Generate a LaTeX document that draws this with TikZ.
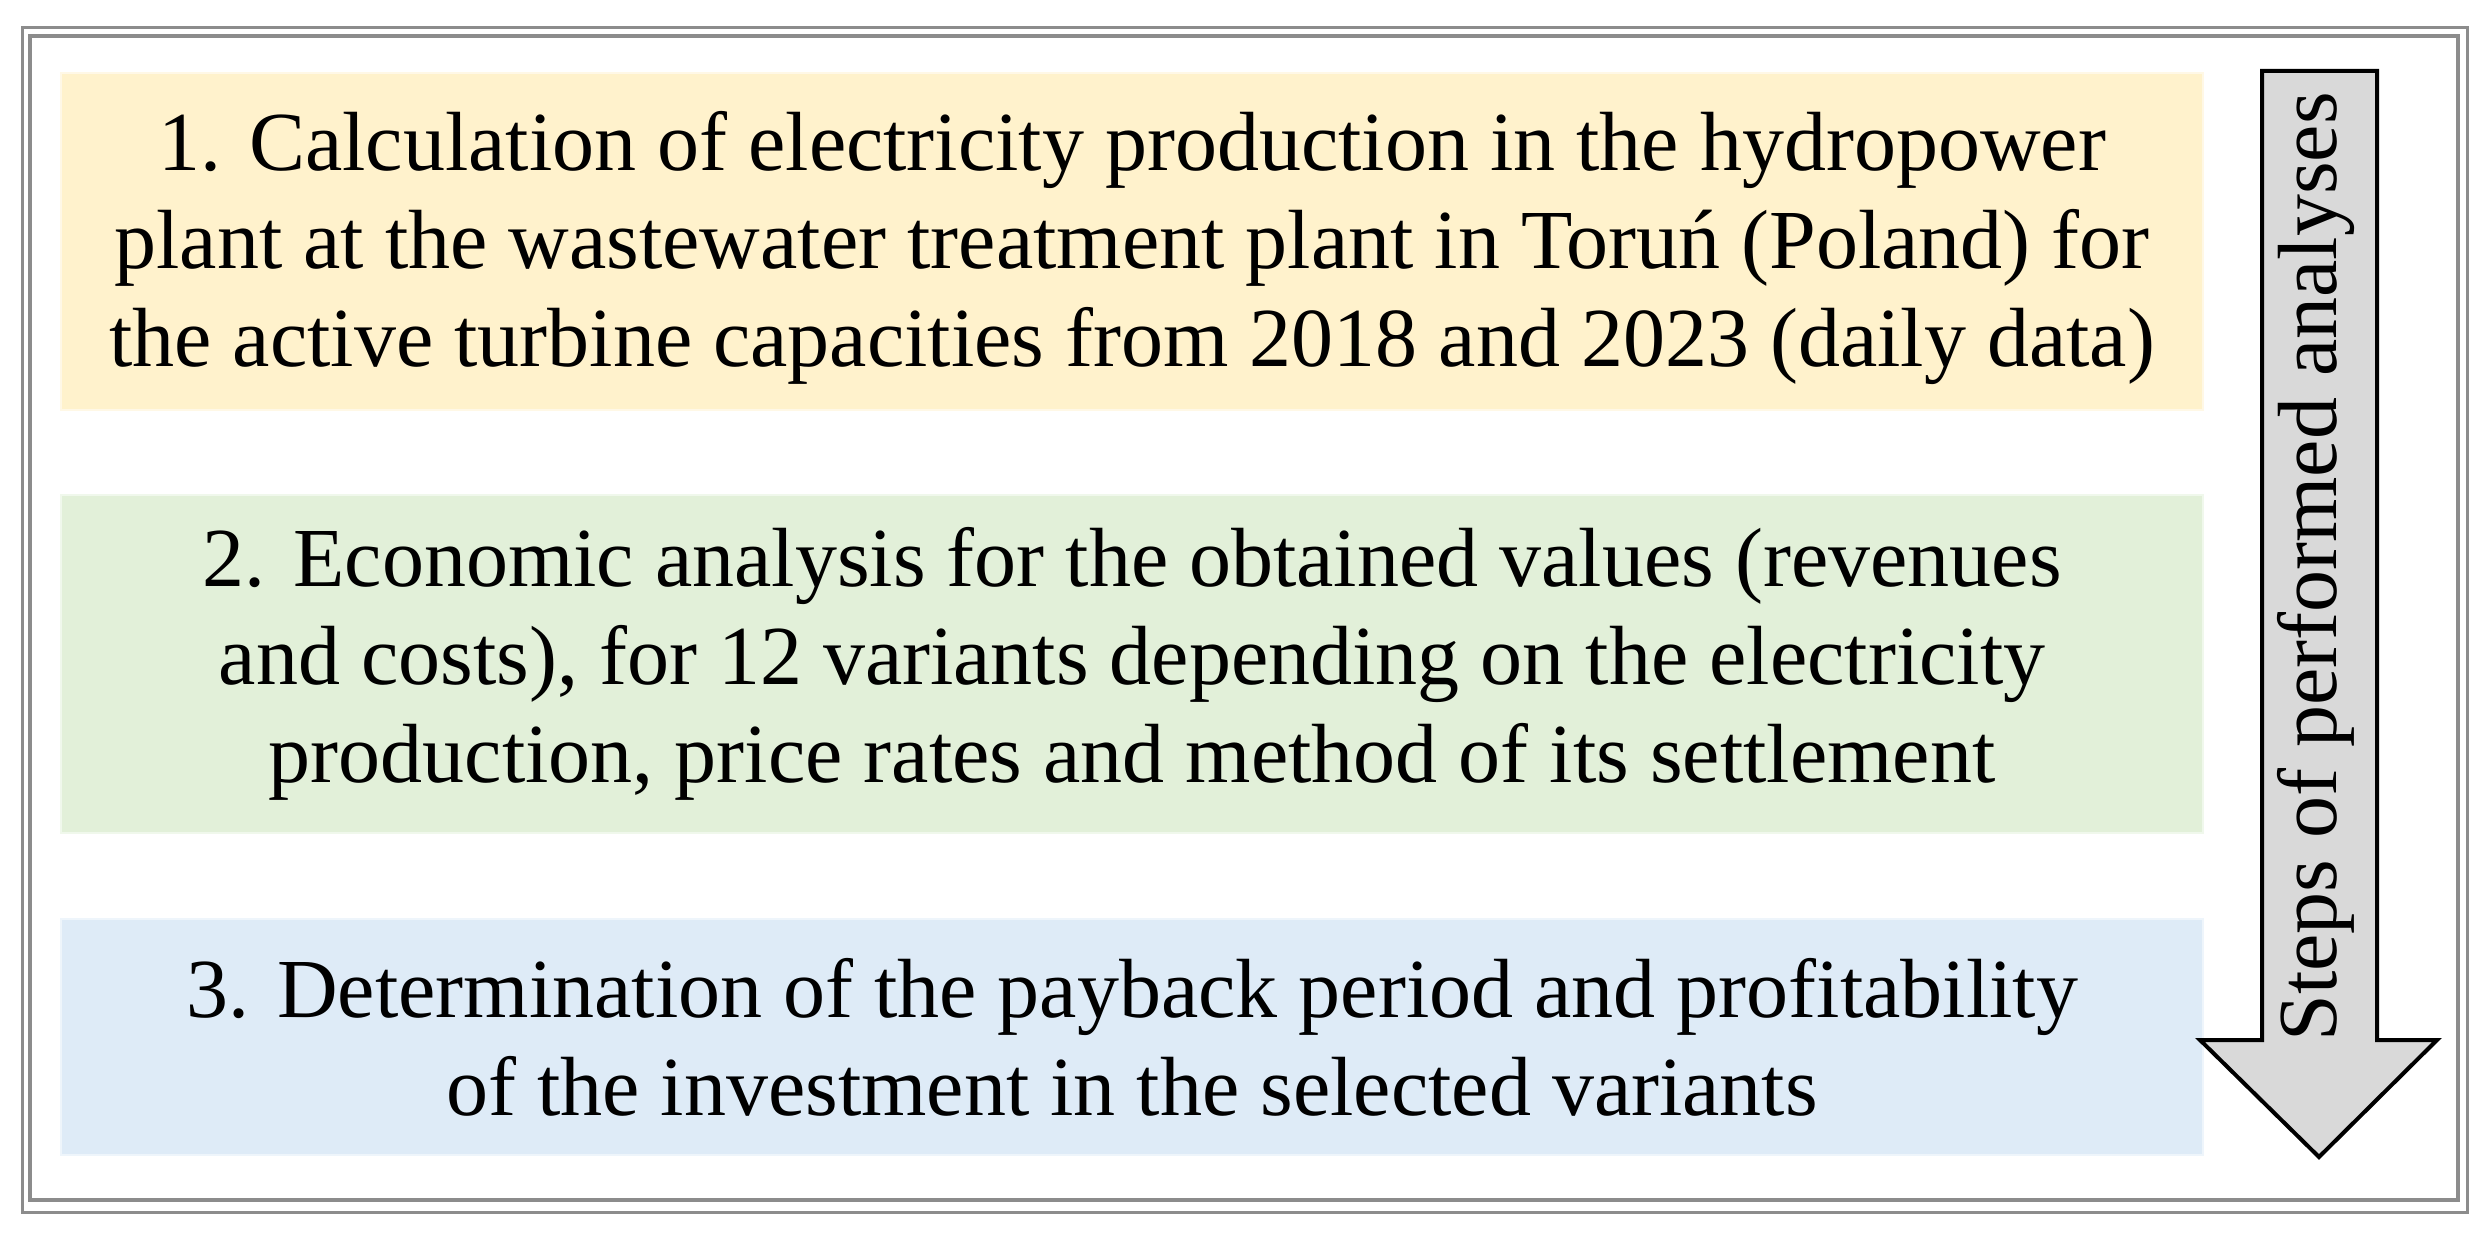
\documentclass[tikz,border=0pt]{standalone}
\usepackage{fontspec}
\setmainfont{Liberation Serif}
\definecolor{boxA}{HTML}{FFF2CC}
\definecolor{boxB}{HTML}{E2F0D9}
\definecolor{boxC}{HTML}{DEEBF7}
\definecolor{arrowfill}{HTML}{D9D9D9}
\definecolor{framegray}{HTML}{8C8C8C}
\begin{document}
\begin{tikzpicture}[x=0.5pt,y=-0.5pt,
  stepbox/.style={inner sep=0pt,outer sep=0pt,minimum width=1071pt,line width=0.75pt},
  steptext/.style={inner sep=0pt,align=center,font=\fontsize{42}{49}\selectfont},
  arrowlabel/.style={inner sep=0pt,font=\fontsize{42}{49}\selectfont,rotate=90}]
\useasboundingbox (0,0) rectangle (2484,1240);
% double frame
\draw[framegray,line width=1.5pt] (22,28) rectangle (2467,1212);
\draw[framegray,line width=2pt] (30,36) rectangle (2458,1200);
% step boxes
\node[stepbox,fill=boxA,draw=boxA!50!white,minimum height=168.5pt] (box1) at (1132,241.5) {};
\node[stepbox,fill=boxB,draw=boxB!50!white,minimum height=169pt] (box2) at (1132,664) {};
\node[stepbox,fill=boxC,draw=boxC!50!white,minimum height=118pt] (box3) at (1132,1037) {};
\node[steptext] (text1) at ([yshift=-3pt]box1.center)
  {1. Calculation of electricity production in the hydropower\\
   plant at the wastewater treatment plant in Toruń (Poland) for\\
   the active turbine capacities from 2018 and 2023 (daily data)};
\node[steptext] (text2) at (box2.center)
  {2. Economic analysis for the obtained values (revenues\\
   and costs), for 12 variants depending on the electricity\\
   production, price rates and method of its settlement};
\node[steptext] (text3) at (box3.center)
  {3. Determination of the payback period and profitability\\
   of the investment in the selected variants};
% big arrow
\draw[fill=arrowfill,line width=2pt,line join=miter]
  (2262,71) -- (2377,71) -- (2377,1040) -- (2437,1040) -- (2319,1157)
  -- (2200,1040) -- (2262,1040) -- cycle;
\node[arrowlabel] (arrowtext) at (2316,567) {Steps of performed analyses};
\end{tikzpicture}
\end{document}
